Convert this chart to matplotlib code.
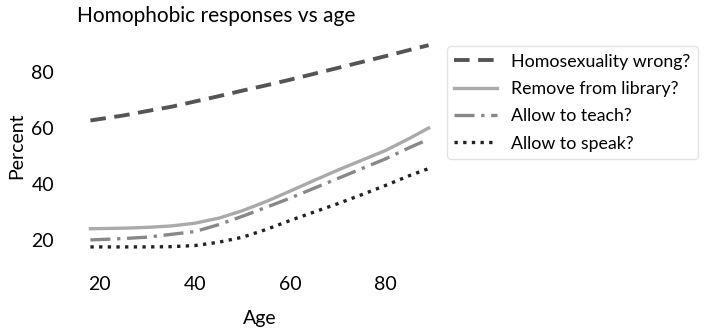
import numpy as np
import matplotlib
matplotlib.use("Agg")
import matplotlib.pyplot as plt

plt.rcParams['font.family'] = ['Lato', 'DejaVu Sans']

age = [18, 25, 30, 35, 40, 45, 50, 55, 60, 65, 70, 75, 80, 85, 89]
wrong = [62.7, 64.5, 66.1, 67.6, 69.5, 71.4, 73.4, 75.3, 77.3, 79.4, 81.5, 83.6, 85.7, 87.9, 89.6]
library = [24.0, 24.2, 24.5, 25.0, 26.0, 27.8, 30.5, 33.8, 37.5, 41.3, 45.0, 48.5, 52.0, 56.3, 60.0]
teach = [20.0, 20.5, 21.0, 22.0, 23.0, 25.5, 28.5, 31.7, 35.0, 38.5, 42.0, 45.5, 49.0, 53.0, 56.0]
speak = [17.5, 17.5, 17.5, 17.6, 18.0, 19.2, 21.0, 23.8, 27.0, 30.0, 33.0, 36.2, 39.5, 43.0, 45.5]

labels = ["Homosexuality wrong?", "Remove from library?", "Allow to teach?", "Allow to speak?"]

fig = plt.figure(figsize=(7.1, 3.35), dpi=100)
ax = fig.add_axes([73.5 / 710, 78 / 335, 372 / 710, 223 / 335])

ax.plot(age, wrong, color='#555555', lw=2.8, ls=(0, (4, 2.2)), label=labels[0])
ax.plot(age, library, color='#aaaaaa', lw=2.4, ls='-', label=labels[1])
ax.plot(age, teach, color='#888888', lw=2.4, ls=(0, (6, 2, 1, 2)), label=labels[2])
ax.plot(age, speak, color='#222222', lw=2.4, ls=(0, (1, 1.6)), label=labels[3])

ax.set_xlim(14.45, 92.55)
ax.set_ylim(13.9, 93.6)
ax.set_xticks([20, 40, 60, 80])
ax.set_yticks([20, 40, 60, 80])
ax.tick_params(length=0, labelsize=14, pad=14)
ax.tick_params(axis='y', pad=14)
for s in ax.spines.values():
    s.set_visible(False)
ax.set_xlabel("Age", fontsize=14, labelpad=12)
ax.set_ylabel("Percent", fontsize=14, labelpad=4)
ax.set_title("Homophobic responses vs age", fontsize=15, loc='left', x=0.01, pad=9)

leg = ax.legend(loc='upper left', bbox_to_anchor=(0.995, 0.96), fontsize=12.8,
                frameon=True, handlelength=2.4, labelspacing=0.64, borderpad=0.4,
                handletextpad=0.8, borderaxespad=0.2)
leg.get_frame().set_edgecolor('#dddddd')

fig.savefig("out.png", dpi=100)
